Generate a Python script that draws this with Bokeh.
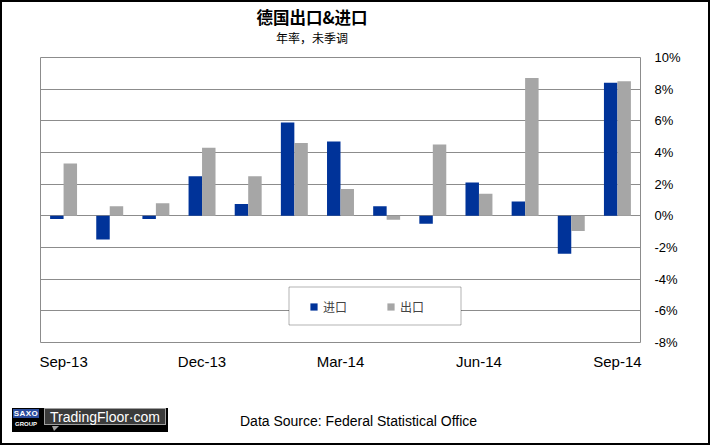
from bokeh.plotting import figure
from bokeh.layouts import column, row
from bokeh.models import (ColumnDataSource, Range1d, FixedTicker, Legend, LegendItem,
                          BoxAnnotation, Div)
from bokeh.transform import dodge
from bokeh.embed import file_html
from bokeh.resources import INLINE

# ---- data ----
months = ["Sep-13", "Oct-13", "Nov-13", "Dec-13", "Jan-14", "Feb-14", "Mar-14",
          "Apr-14", "May-14", "Jun-14", "Jul-14", "Aug-14", "Sep-14"]
imports = [-0.2, -1.5, -0.2, 2.5, 0.75, 5.9, 4.7, 0.6, -0.5, 2.1, 0.9, -2.4, 8.4]
exports = [3.3, 0.6, 0.8, 4.3, 2.5, 4.6, 1.7, -0.25, 4.5, 1.4, 8.7, -0.95, 8.5]
x_tick_labels = ["Sep-13", "Dec-13", "Mar-14", "Jun-14", "Sep-14"]
y_ticks = [-8, -6, -4, -2, 0, 2, 4, 6, 8, 10]
y_tick_labels = ["-8%", "-6%", "-4%", "-2%", "0%", "2%", "4%", "6%", "8%", "10%"]
series_names = ["进口", "出口"]
title_text = "德国出口&进口"
subtitle_text = "年率，未季调"
source_text = "Data Source: Federal Statistical Office"
logo_texts = ["SAXO", "GROUP", "TradingFloor·com"]

BLUE = "#003399"
GRAY = "#a6a6a6"
GRID = "#8c8c8c"
CJK = "Noto Sans CJK SC"
LAT = "Liberation Sans"

TOTAL_W, TOTAL_H = 710, 445
EDGE = 2
INNER_W = TOTAL_W - 2 * EDGE          # 706
HEAD_H = 47
FOOT_H = 48
MAIN_H = TOTAL_H - 2 * EDGE - HEAD_H - FOOT_H   # 346

# ---- header ----
head_html = f"""
<div style="position:relative;width:{INNER_W}px;height:{HEAD_H}px;overflow:hidden;">
  <div style="position:absolute;left:0;top:5px;width:620px;text-align:center;
              font-family:'{CJK}';font-size:16.5px;font-weight:bold;line-height:20px;color:black;">{title_text}</div>
  <div style="position:absolute;left:0;top:29px;width:620px;text-align:center;
              font-family:'{CJK}';font-size:12px;line-height:14px;color:black;">{subtitle_text}</div>
</div>"""
head = Div(text=head_html, width=INNER_W, height=HEAD_H, margin=0)

# ---- main chart ----
src = ColumnDataSource(dict(x=list(range(len(months))), month=months,
                            imports=imports, exports=exports))

p = figure(width=INNER_W, height=MAIN_H, output_backend="svg", toolbar_location=None,
           x_range=Range1d(-0.5, len(months) - 0.5), y_range=Range1d(-8, 10),
           y_axis_location="right",
           min_border_left=38, min_border_right=68, min_border_top=8, min_border_bottom=53)
p.background_fill_color = "white"
p.border_fill_color = "white"
p.outline_line_color = GRID
p.outline_line_width = 1

r_imp = p.vbar(x=dodge("x", -0.146, range=p.x_range), top="imports", bottom=0, width=0.292,
               source=src, fill_color=BLUE, line_color=None)
r_exp = p.vbar(x=dodge("x", 0.146, range=p.x_range), top="exports", bottom=0, width=0.292,
               source=src, fill_color=GRAY, line_color=None)

p.xgrid.visible = False
p.ygrid.ticker = FixedTicker(ticks=y_ticks)
p.ygrid.grid_line_color = GRID
p.ygrid.grid_line_width = 1

ya = p.yaxis[0]
ya.ticker = FixedTicker(ticks=y_ticks)
ya.major_label_overrides = {t: l for t, l in zip(y_ticks, y_tick_labels)}
ya.axis_line_color = None
ya.major_tick_line_color = None
ya.minor_tick_line_color = None
ya.major_tick_out = 0
ya.major_tick_in = 0
ya.major_label_standoff = 14
ya.major_label_text_font = LAT
ya.major_label_text_font_size = "13px"
ya.major_label_text_color = "black"

xt = [months.index(m) for m in x_tick_labels]
xa = p.xaxis[0]
xa.ticker = FixedTicker(ticks=xt)
xa.major_label_overrides = {i: m for i, m in zip(xt, x_tick_labels)}
xa.axis_line_color = None
xa.major_tick_line_color = None
xa.minor_tick_line_color = None
xa.major_tick_out = 0
xa.major_tick_in = 0
xa.major_label_standoff = 10
xa.major_label_text_font = LAT
xa.major_label_text_font_size = "15px"
xa.major_label_text_color = "black"

# legend box (canvas units, inside the frame)
p.add_layout(BoxAnnotation(left=286.5, right=458.5, top=237.5, bottom=275.5,
                           left_units="canvas", right_units="canvas",
                           top_units="canvas", bottom_units="canvas",
                           fill_color="white", fill_alpha=1, line_color="black", line_width=1))

legend = Legend(items=[LegendItem(label=series_names[0], renderers=[r_imp]),
                       LegendItem(label=series_names[1], renderers=[r_exp])],
                orientation="horizontal", location=(269, 27),
                glyph_width=9, glyph_height=9, label_height=14,
                label_standoff=5, spacing=39, padding=0, margin=0,
                border_line_alpha=0, background_fill_alpha=0,
                label_text_font=CJK, label_text_font_size="12px")
p.add_layout(legend)

# ---- footer (logo + source) ----
foot_html = f"""
<div style="position:relative;width:{INNER_W}px;height:{FOOT_H}px;overflow:hidden;">
  <div style="position:absolute;left:10px;top:13px;width:156px;height:24px;background:#000;"></div>
  <div style="position:absolute;left:11px;top:14px;width:26px;height:9px;background:#2b4c9c;
              color:#fff;font-family:'{LAT}';font-size:8px;font-weight:bold;line-height:9px;
              text-align:center;letter-spacing:0.5px;">{logo_texts[0]}</div>
  <div style="position:absolute;left:11px;top:25px;width:26px;height:8px;
              color:#fff;font-family:'{LAT}';font-size:6px;font-weight:bold;line-height:8px;
              text-align:center;">{logo_texts[1]}</div>
  <div style="position:absolute;left:42px;top:13px;width:122px;height:17px;background:#3b3b3b;
              border:1px solid #a0a0a0;color:#fff;font-family:'{LAT}';font-size:14px;
              line-height:17px;text-align:center;">{logo_texts[2]}</div>
  <div style="position:absolute;left:50px;top:31px;width:0;height:0;
              border-left:2px solid transparent;border-right:5px solid transparent;
              border-top:5px solid #a0a0a0;"></div>
  <div style="position:absolute;left:238px;top:17px;white-space:nowrap;
              color:#000;font-family:'{LAT}';font-size:14px;line-height:18px;">{source_text}</div>
</div>"""
foot = Div(text=foot_html, width=INNER_W, height=FOOT_H, margin=0)

def strip(w, h):
    return Div(text="", width=w, height=h, margin=0, styles={"background-color": "black"})

inner = column(strip(INNER_W, EDGE), head, p, foot, strip(INNER_W, EDGE), spacing=0)
layout = row(strip(EDGE, TOTAL_H), inner, strip(EDGE, TOTAL_H), spacing=0)

open("out.html", "w").write(file_html(layout, INLINE))
